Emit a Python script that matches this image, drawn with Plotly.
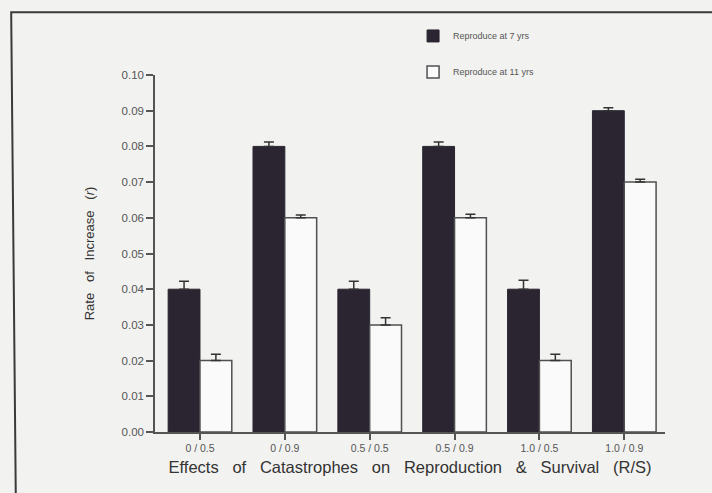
import plotly.graph_objects as go

# Catastrophe effects on reproduction / survival (R/S)
categories = ["0 / 0.5", "0 / 0.9", "0.5 / 0.5", "0.5 / 0.9", "1.0 / 0.5", "1.0 / 0.9"]
rate_7yrs = [0.040, 0.080, 0.040, 0.080, 0.040, 0.090]
err_7yrs = [0.0022, 0.0012, 0.0022, 0.0012, 0.0025, 0.0008]
rate_11yrs = [0.020, 0.060, 0.030, 0.060, 0.020, 0.070]
err_11yrs = [0.0018, 0.0008, 0.0020, 0.0010, 0.0018, 0.0008]
y_ticks = [0.00, 0.01, 0.02, 0.03, 0.04, 0.05, 0.06, 0.07, 0.08, 0.09, 0.10]

INK = "#4a4a4a"
DARK = "#2a2530"
BG = "#f2f2f0"
FONT = "Liberation Sans, Arial, sans-serif"

fig = go.Figure()
fig.add_trace(go.Bar(
    name="Reproduce at 7 yrs", x=categories, y=rate_7yrs,
    legendgroup="a",
    marker=dict(color=DARK, line=dict(color=DARK, width=1)),
    error_y=dict(type="data", array=err_7yrs, symmetric=False,
                 arrayminus=[0] * len(err_7yrs),
                 color="#333333", thickness=1.5, width=5),
))
fig.add_trace(go.Bar(
    name="Reproduce at 11 yrs", x=categories, y=rate_11yrs,
    legendgroup="b",
    marker=dict(color="#fafafa", line=dict(color="#505050", width=1.5)),
    error_y=dict(type="data", array=err_11yrs, symmetric=False,
                 arrayminus=[0] * len(err_11yrs),
                 color="#333333", thickness=1.5, width=5),
))

x_title = ("\u00a0" * 3).join("Effects of Catastrophes on Reproduction & Survival (R/S)".split(" "))
y_title = ("\u00a0" * 3).join(["Rate", "of", "Increase", "(<i>r</i>)"])

fig.update_layout(
    width=712, height=493,
    margin=dict(l=155, r=47, t=75, b=61),
    paper_bgcolor=BG, plot_bgcolor=BG,
    font=dict(family=FONT, color=INK, size=9),
    barmode="group", bargap=0.25, bargroupgap=0,
    showlegend=True,
    legend=dict(x=0.506, y=1.15, xanchor="left", yanchor="top",
                bgcolor="rgba(0,0,0,0)", traceorder="grouped",
                tracegroupgap=17, font=dict(size=9, color="#555555")),
    xaxis=dict(
        range=[-0.53, 5.48], showline=True, linecolor="#555555", linewidth=1.5,
        ticks="outside", ticklen=6, tickcolor="#555555", tickwidth=1.5,
        showgrid=False, zeroline=False,
        tickfont=dict(size=10.5, color="#555555"),
        title=dict(text=x_title, font=dict(size=16.5, color="#333333"), standoff=8),
    ),
    yaxis=dict(
        range=[0, 0.10], tickvals=y_ticks, tickformat=".2f",
        showline=True, linecolor="#555555", linewidth=1.5,
        ticks="outside", ticklen=7, tickcolor="#555555", tickwidth=1.5,
        showgrid=False, zeroline=False,
        tickfont=dict(size=11.5, color="#555555"),
        title=dict(text=y_title, font=dict(size=13, color="#333333"), standoff=24),
    ),
    shapes=[
        dict(type="path", xref="paper", yref="paper",
             path="M 1.10,1.176 L -0.282,1.176 L -0.273,-0.175",
             line=dict(color="#3a3a3a", width=2)),
    ],
)

fig.write_html("out.html")
